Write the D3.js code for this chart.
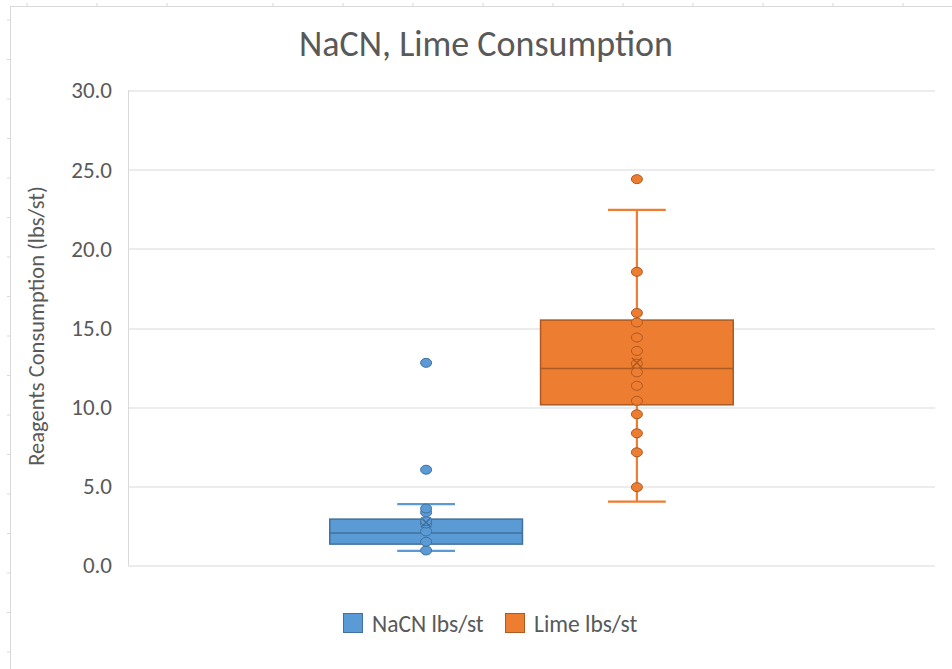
<!DOCTYPE html>
<html>
<head>
<meta charset="utf-8">
<script src="https://cdn.jsdelivr.net/npm/d3@7"></script>
<style>
  body { margin: 0; background: #fff; }
  text { font-family: Carlito, Calibri, Lato, "Open Sans", sans-serif; fill: #595959; }
</style>
</head>
<body>
<script>
var canvasWidth = 952;
var canvasHeight = 669;
var margin = { top: 90.5, right: 17, bottom: 103.5, left: 128 };

// data
var seriesNames = ["NaCN lbs/st", "Lime lbs/st"];
var seriesColors = ["#5B9BD5", "#ED7D31"];
var seriesStroke = ["#41719C", "#AE5A21"];

// box stats: [whisker low, q1, median, q3, whisker high, mean]
var nacnStats = [0.93, 1.35, 2.05, 2.93, 3.88, 2.72];
var limeStats = [4.03, 10.15, 12.45, 15.5, 22.46, 12.8];

var nacnPoints = [0.95, 1.5, 2.15, 2.65, 2.8, 3.35, 3.6, 6.05, 12.8];
var limePoints = [4.95, 7.15, 8.35, 9.55, 10.4, 11.35, 12.2, 12.75, 13.55, 14.4, 15.35, 15.95, 18.55, 24.4];

var yTicks = [0, 5, 10, 15, 20, 25, 30];

var svg = d3.select("body").append("svg")
    .attr("width", canvasWidth)
    .attr("height", canvasHeight);

var width = canvasWidth - margin.left - margin.right;
var height = canvasHeight - margin.top - margin.bottom;

// chart frame (sheet border peeking through)
var frame = svg.append("g").attr("stroke", "#D9D9D9").attr("fill", "none");
frame.append("line").attr("x1", 10).attr("x2", canvasWidth).attr("y1", 6.5).attr("y2", 6.5);
frame.append("line").attr("x1", 10.5).attr("x2", 10.5).attr("y1", 6).attr("y2", canvasHeight);
for (var ty = 20; ty < canvasHeight; ty += 39.5) {
    frame.append("line").attr("x1", 7).attr("x2", 10).attr("y1", ty).attr("y2", ty);
}
[27, 97, 167, 273, 343, 413, 483, 553, 623, 693, 763, 833, 903].forEach(function(tx) {
    frame.append("line").attr("x1", tx).attr("x2", tx).attr("y1", 3).attr("y2", 6);
});

svg.append("text")
    .attr("x", 486)
    .attr("y", 56)
    .attr("text-anchor", "middle")
    .attr("font-size", "36px")
    .text("NaCN, Lime Consumption");

var yScale = d3.scaleLinear().domain([0, 30]).range([height, 0]);
var catScale = d3.scaleBand().domain(["all"]).range([0, width]).paddingInner(0).paddingOuter(0);
var seriesScale = d3.scaleBand()
    .domain(seriesNames)
    .range([catScale("all") + width * 0.25, catScale("all") + width * 0.75])
    .paddingInner(0.0857)
    .paddingOuter(0);

var container_g = svg.append("g")
    .attr("transform", "translate(" + margin.left + ", " + margin.top + ")");

// gridlines
container_g.append("g")
    .selectAll("line").data(yTicks)
    .enter().append("line")
    .attr("x1", 0).attr("x2", width)
    .attr("y1", d => Math.round(yScale(d)) + 0.5)
    .attr("y2", d => Math.round(yScale(d)) + 0.5)
    .attr("stroke", "#D9D9D9")
    .attr("stroke-width", 1);

container_g.append("line")
    .attr("x1", 0.5).attr("x2", 0.5)
    .attr("y1", 0).attr("y2", height)
    .attr("stroke", "#D9D9D9");

// y axis labels
var yAxis = container_g.append("g")
    .call(d3.axisLeft(yScale).tickValues(yTicks).tickFormat(d3.format(".1f")).tickSize(0).tickPadding(16));
yAxis.select(".domain").remove();
yAxis.selectAll("text")
    .attr("font-size", "23px")
    .attr("fill", "#595959")
    .attr("font-family", "Carlito, Calibri, Lato, 'Open Sans', sans-serif");

svg.append("text")
    .attr("transform", "translate(44, " + (margin.top + height / 2 - 2) + ") rotate(-90)")
    .attr("text-anchor", "middle")
    .attr("font-size", "22.5px")
    .text("Reagents Consumption (lbs/st)");

// boxes
var boxes = [
    { name: seriesNames[0], stats: nacnStats, points: nacnPoints, color: seriesColors[0], stroke: seriesStroke[0] },
    { name: seriesNames[1], stats: limeStats, points: limePoints, color: seriesColors[1], stroke: seriesStroke[1] }
];

boxes.forEach(function(b) {
    var x0 = seriesScale(b.name);
    var bw = seriesScale.bandwidth();
    var cx = x0 + bw / 2;
    var capW = bw * 0.3;
    var s = b.stats;
    var g = container_g.append("g");

    // whiskers
    g.append("line")
        .attr("x1", cx).attr("x2", cx)
        .attr("y1", yScale(s[0])).attr("y2", yScale(s[4]))
        .attr("stroke", b.color).attr("stroke-width", 2.2);
    [s[0], s[4]].forEach(function(v) {
        g.append("line")
            .attr("x1", cx - capW / 2).attr("x2", cx + capW / 2)
            .attr("y1", yScale(v)).attr("y2", yScale(v))
            .attr("stroke", b.color).attr("stroke-width", 2.2);
    });

    // box
    g.append("rect")
        .attr("x", x0)
        .attr("y", yScale(s[3]))
        .attr("width", bw)
        .attr("height", yScale(s[1]) - yScale(s[3]))
        .attr("fill", b.color)
        .attr("stroke", b.stroke)
        .attr("stroke-width", 1.5);

    g.append("line")
        .attr("x1", x0).attr("x2", x0 + bw)
        .attr("y1", yScale(s[2])).attr("y2", yScale(s[2]))
        .attr("stroke", b.stroke).attr("stroke-width", 1.5);

    // points
    g.selectAll("ellipse").data(b.points)
        .enter().append("ellipse")
        .attr("cx", cx)
        .attr("cy", d => yScale(d))
        .attr("rx", 5.5)
        .attr("ry", 4.5)
        .attr("fill", b.color)
        .attr("stroke", b.stroke)
        .attr("stroke-width", 1);

    // mean marker
    var my = yScale(s[5]);
    g.append("path")
        .attr("d", "M" + (cx - 5) + "," + (my - 5) + "L" + (cx + 5) + "," + (my + 5) +
                   "M" + (cx + 5) + "," + (my - 5) + "L" + (cx - 5) + "," + (my + 5))
        .attr("stroke", b.stroke)
        .attr("stroke-width", 1.5)
        .attr("fill", "none");
});

// legend
var legendX = [343, 505];
seriesNames.forEach(function(name, i) {
    svg.append("rect")
        .attr("x", legendX[i] + 0.5)
        .attr("y", 613.5)
        .attr("width", 19)
        .attr("height", 19)
        .attr("fill", seriesColors[i])
        .attr("stroke", seriesStroke[i])
        .attr("stroke-width", 1);
    svg.append("text")
        .attr("x", legendX[i] + 29)
        .attr("y", 632)
        .attr("font-size", "23.5px")
        .text(name);
});
</script>
</body>
</html>
